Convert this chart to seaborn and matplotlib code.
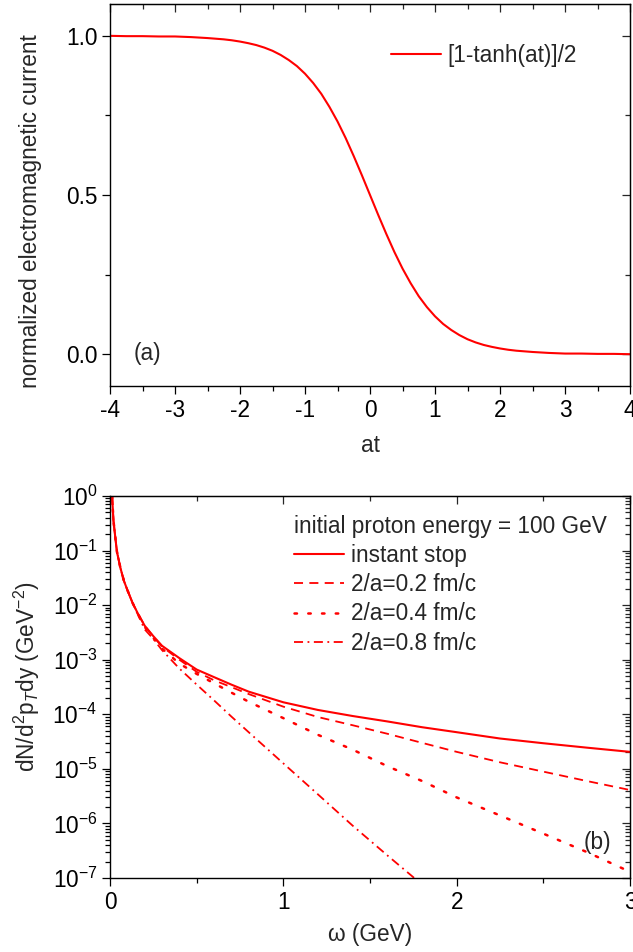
import numpy as np
import pandas as pd
import matplotlib
matplotlib.use('Agg')
import matplotlib.pyplot as plt
from matplotlib.ticker import MultipleLocator, LogLocator, NullFormatter
import seaborn as sns

# ---- panel (a): normalized current vs at ----
at_vals = [-4.0, -3.75, -3.5, -3.25, -3.0, -2.75, -2.5, -2.25, -2.125, -2.0, -1.875, -1.75,
           -1.625, -1.5, -1.375, -1.25, -1.125, -1.0, -0.875, -0.75, -0.625, -0.5, -0.375,
           -0.25, -0.125, 0.0, 0.125, 0.25, 0.375, 0.5, 0.625, 0.75, 0.875, 1.0, 1.125,
           1.25, 1.375, 1.5, 1.625, 1.75, 1.875, 2.0, 2.125, 2.25, 2.5, 2.75, 3.0, 3.25,
           3.5, 3.75, 4.0]
current = [1.000, 0.999, 0.999, 0.998, 0.998, 0.996, 0.993, 0.989, 0.986, 0.982, 0.977, 0.971,
           0.963, 0.953, 0.940, 0.924, 0.905, 0.881, 0.852, 0.818, 0.777, 0.731, 0.679,
           0.622, 0.562, 0.500, 0.438, 0.378, 0.321, 0.269, 0.223, 0.182, 0.148, 0.119, 0.095,
           0.076, 0.060, 0.047, 0.037, 0.029, 0.023, 0.018, 0.014, 0.011, 0.007, 0.004, 0.002,
           0.002, 0.001, 0.001, 0.000]

# ---- panel (b): photon spectrum vs omega ----
omega = [0.012, 0.02, 0.03, 0.04, 0.06, 0.08, 0.1, 0.13, 0.16, 0.2, 0.25, 0.3, 0.4,
         0.5, 0.6, 0.7, 0.8, 1.0, 1.2, 1.4, 1.6, 1.8, 2.0, 2.25, 2.5, 2.75, 3.0]
instant_stop = [1.0, 0.35, 0.18, 0.095, 0.048, 0.028, 0.019, 0.011, 7.1e-3, 4.2e-3, 2.7e-3,
                1.8e-3, 1.07e-3, 6.6e-4, 4.8e-4, 3.5e-4, 2.6e-4, 1.66e-4, 1.2e-4, 9.3e-5,
                7.4e-5, 5.8e-5, 4.7e-5, 3.6e-5, 2.95e-5, 2.45e-5, 2.05e-5]
stop_02 = [1.0, 0.35, 0.18, 0.095, 0.048, 0.028, 0.019, 0.011, 7.1e-3, 4.2e-3, 2.65e-3,
           1.74e-3, 1.0e-3, 6.0e-4, 4.2e-4, 3.15e-4, 2.35e-4, 1.38e-4, 8.9e-5, 6.3e-5,
           4.4e-5, 3.0e-5, 2.05e-5, 1.32e-5, 8.9e-6, 6.0e-6, 4.1e-6]
stop_04 = [1.0, 0.35, 0.18, 0.095, 0.048, 0.028, 0.019, 0.011, 7.0e-3, 4.0e-3, 2.5e-3,
           1.6e-3, 8.5e-4, 5.5e-4, 3.7e-4, 2.5e-4, 1.7e-4, 8.5e-5, 4.2e-5, 2.25e-5,
           1.12e-5, 6.0e-6, 3.0e-6, 1.4e-6, 6.5e-7, 3.0e-7, 1.3e-7]
omega_08 = [0.012, 0.02, 0.03, 0.04, 0.06, 0.08, 0.1, 0.13, 0.16, 0.2, 0.25, 0.3, 0.4,
            0.5, 0.6, 0.7, 0.8, 1.0, 1.2, 1.4, 1.6, 1.8]
stop_08 = [1.0, 0.35, 0.18, 0.095, 0.048, 0.028, 0.019, 0.011, 6.8e-3, 3.6e-3, 2.4e-3,
           1.5e-3, 6.9e-4, 3.5e-4, 1.8e-4, 9.1e-5, 4.7e-5, 1.26e-5, 3.4e-6, 9.1e-7,
           2.6e-7, 7.6e-8]

sns.set_style('ticks')
plt.rcParams['font.family'] = ['Liberation Sans', 'DejaVu Sans']
plt.rcParams['mathtext.fontset'] = 'custom'
plt.rcParams['mathtext.rm'] = 'Liberation Sans'
plt.rcParams['mathtext.it'] = 'Liberation Sans:italic'
plt.rcParams['axes.unicode_minus'] = False
FS = 16.3
plt.rcParams['font.size'] = FS

RED = '#ff0000'
fig = plt.figure(figsize=(6.33, 9.52), dpi=100)
ax1 = fig.add_axes([0.1738, 0.5945, 0.8215, 0.4013])
ax2 = fig.add_axes([0.1738, 0.0777, 0.8215, 0.4013])


def style_axis(ax):
    for s in ax.spines.values():
        s.set_linewidth(1.0)
        s.set_color('black')
        s.set_visible(True)
    ax.tick_params(which='both', direction='out', top=False, right=False,
                   labelsize=FS, colors='black', width=0.9)
    ax.tick_params(which='major', length=6, pad=3)
    ax.tick_params(which='minor', length=3.5)
    # mirrored inward ticks on top/right
    sec_x = ax.secondary_xaxis('top')
    sec_y = ax.secondary_yaxis('right')
    for sec in (sec_x, sec_y):
        sec.tick_params(which='both', direction='in', width=0.9)
        sec.tick_params(which='major', length=6)
        sec.tick_params(which='minor', length=3.5)
    return sec_x, sec_y


# ---- (a) ----
df_a = pd.DataFrame({'at': at_vals, 'current': current})
sns.lineplot(data=df_a, x='at', y='current', ax=ax1, color=RED, lw=1.5,
             label='[1-tanh(at)]/2')
ax1.set_xlim(-4, 4)
ax1.set_ylim(-0.1, 1.1)
ax1.xaxis.set_major_locator(MultipleLocator(1))
ax1.xaxis.set_minor_locator(MultipleLocator(0.5))
ax1.yaxis.set_major_locator(MultipleLocator(0.5))
ax1.yaxis.set_minor_locator(MultipleLocator(0.25))
ax1.xaxis.set_major_formatter(plt.FuncFormatter(lambda v, p: f'{v:.0f}'))
ax1.yaxis.set_major_formatter(plt.FuncFormatter(lambda v, p: f'{v:.1f}'))
ax1.set_xlabel('at', fontsize=FS, labelpad=9)
ax1.set_ylabel('normalized electromagnetic current', fontsize=FS)
ax1.yaxis.set_label_coords(-0.131, 0.458)
sx, sy = style_axis(ax1)
sx.xaxis.set_major_locator(MultipleLocator(1))
sx.xaxis.set_minor_locator(MultipleLocator(0.5))
sx.set_xticklabels([])
sy.yaxis.set_major_locator(MultipleLocator(0.5))
sy.yaxis.set_minor_locator(MultipleLocator(0.25))
sy.set_yticklabels([])
ax1.legend(loc='upper left', bbox_to_anchor=(0.54, 0.895), frameon=False, fontsize=FS,
           handlelength=2.2, handletextpad=0.3, borderpad=0, borderaxespad=0)
ax1.text(0.046, 0.084, '(a)', transform=ax1.transAxes, fontsize=FS, va='center')

# ---- (b) ----
ax2.set_yscale('log')
sns.lineplot(x=omega, y=instant_stop, ax=ax2, color=RED, lw=1.5, label='instant stop')
sns.lineplot(x=omega, y=stop_02, ax=ax2, color=RED, lw=1.3, label='2/a=0.2 fm/c',
             linestyle=(0, (5, 3.5)))
sns.lineplot(x=omega, y=stop_04, ax=ax2, color=RED, lw=1.8, label='2/a=0.4 fm/c',
             linestyle=(0, (1, 4.5)), dash_capstyle='round')
sns.lineplot(x=omega_08, y=stop_08, ax=ax2, color=RED, lw=1.3, label='2/a=0.8 fm/c',
             linestyle=(0, (5, 2.5, 1, 2.5)))
ax2.set_xlim(0, 3)
ax2.set_ylim(1e-7, 1)
ax2.xaxis.set_major_locator(MultipleLocator(1))
ax2.xaxis.set_minor_locator(MultipleLocator(0.5))
ax2.xaxis.set_major_formatter(plt.FuncFormatter(lambda v, p: f'{v:.0f}'))
ax2.yaxis.set_major_locator(LogLocator(base=10, numticks=10))
ax2.yaxis.set_minor_locator(LogLocator(base=10, subs=np.arange(2, 10), numticks=10))
ax2.yaxis.set_minor_formatter(NullFormatter())
ax2.set_xlabel('ω (GeV)', fontsize=FS, labelpad=7)
ax2.set_ylabel(r'dN/d$^2$p$_T$dy (GeV$^{-2}$)', fontsize=FS)
ax2.yaxis.set_label_coords(-0.131, 0.526)
sx, sy = style_axis(ax2)
sx.xaxis.set_major_locator(MultipleLocator(1))
sx.xaxis.set_minor_locator(MultipleLocator(0.5))
sx.set_xticklabels([])
sy.set_yscale('log')
sy.yaxis.set_major_locator(LogLocator(base=10, numticks=10))
sy.yaxis.set_minor_locator(LogLocator(base=10, subs=np.arange(2, 10), numticks=10))
sy.yaxis.set_major_formatter(NullFormatter())
sy.yaxis.set_minor_formatter(NullFormatter())
ax2.legend(loc='upper left', bbox_to_anchor=(0.354, 0.95), frameon=False, fontsize=FS,
           title='initial proton energy = 100 GeV', title_fontsize=FS,
           handlelength=2.2, handletextpad=0.3, labelspacing=0.27, alignment='left',
           borderpad=0, borderaxespad=0)
ax2.text(0.91, 0.094, '(b)', transform=ax2.transAxes, fontsize=FS, va='center')

fig.savefig('out.png', dpi=100)
